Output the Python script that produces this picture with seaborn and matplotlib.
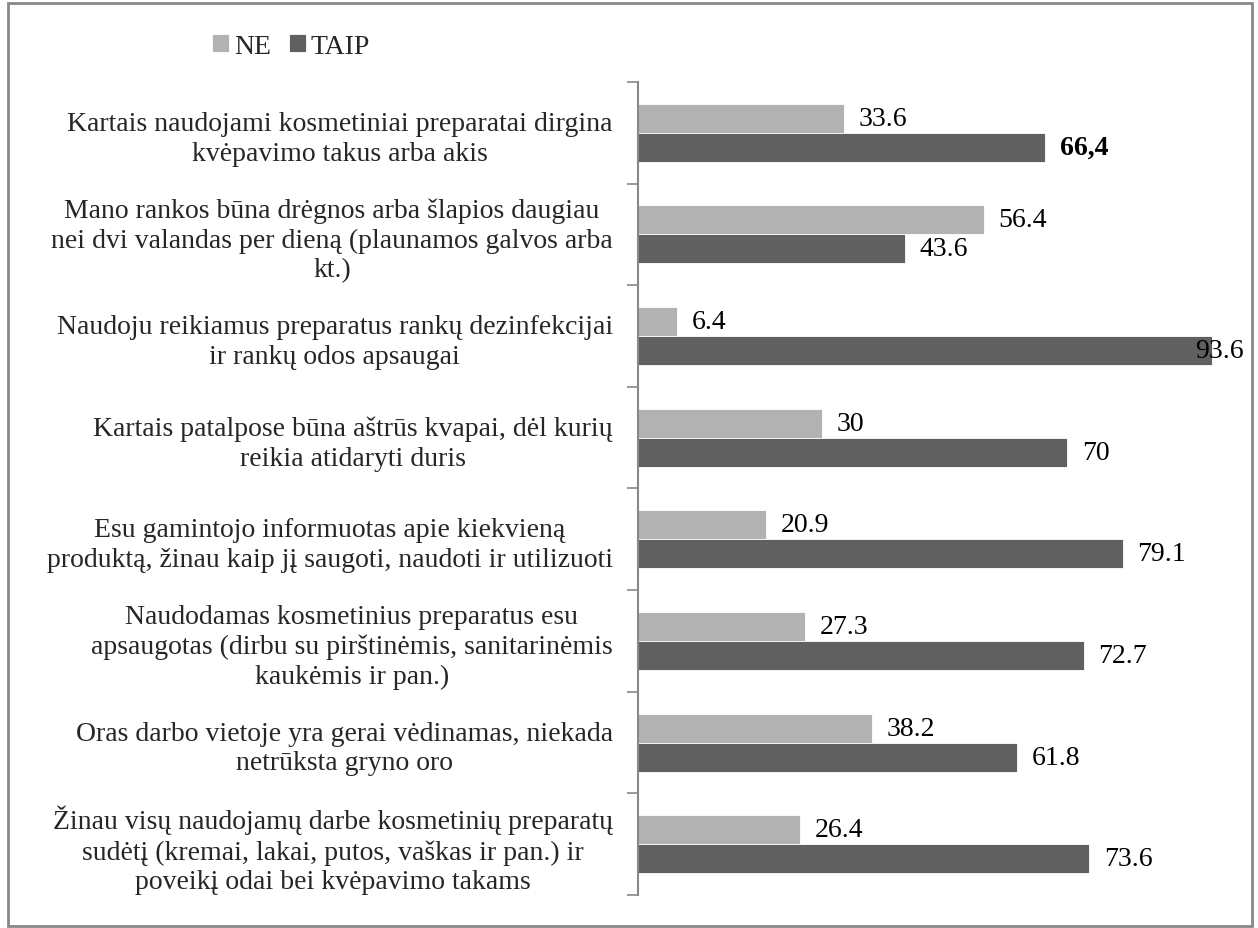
import matplotlib
matplotlib.use("Agg")
import matplotlib.pyplot as plt
from matplotlib.patches import Rectangle
import seaborn as sns
import pandas as pd
import numpy as np

# Chart data
statements = [
    "Kartais naudojami kosmetiniai preparatai dirgina\nkvėpavimo takus arba akis",
    "Mano rankos būna drėgnos arba šlapios daugiau\nnei dvi valandas per dieną (plaunamos galvos arba\nkt.)",
    "Naudoju reikiamus preparatus rankų dezinfekcijai\nir rankų odos apsaugai",
    "Kartais patalpose būna aštrūs kvapai, dėl kurių\nreikia atidaryti duris",
    "Esu gamintojo informuotas apie kiekvieną\nproduktą, žinau kaip jį saugoti, naudoti ir utilizuoti",
    "Naudodamas kosmetinius preparatus esu\napsaugotas (dirbu su pirštinėmis, sanitarinėmis\nkaukėmis ir pan.)",
    "Oras darbo vietoje yra gerai vėdinamas, niekada\nnetrūksta gryno oro",
    "Žinau visų naudojamų darbe kosmetinių preparatų\nsudėtį (kremai, lakai, putos, vaškas ir pan.) ir\npoveikį odai bei kvėpavimo takams",
]
ne_values = [33.6, 56.4, 6.4, 30, 20.9, 27.3, 38.2, 26.4]
taip_values = [66.4, 43.6, 93.6, 70, 79.1, 72.7, 61.8, 73.6]
ne_labels = ["33.6", "56.4", "6.4", "30", "20.9", "27.3", "38.2", "26.4"]
taip_labels = ["66,4", "43.6", "93.6", "70", "79.1", "72.7", "61.8", "73.6"]
series_names = ["NE", "TAIP"]

colors = {"NE": "#b2b2b2", "TAIP": "#606060"}
fsize = 20

df = pd.DataFrame({
    "statement": statements * 2,
    "value": ne_values + taip_values,
    "answer": ["NE"] * len(statements) + ["TAIP"] * len(statements),
})

sns.set_style("white")
plt.rcParams["font.family"] = ["Liberation Serif", "DejaVu Serif"]

fig = plt.figure(figsize=(12.58, 9.29), dpi=100)
ax = fig.add_axes([0.507, 0.0355, 0.4874, 0.8752])

sns.barplot(data=df, y="statement", x="value", hue="answer", order=statements,
            hue_order=series_names, palette=colors, orient="h", width=0.57,
            saturation=1, ax=ax, legend=True, edgecolor="white", linewidth=0.6)

ax.set_xlim(0, 100)
ax.set_ylim(len(statements) - 0.5, -0.5)
ax.set_xlabel("")
ax.set_ylabel("")
ax.set_xticks([])

# category labels, centred block, right aligned to axis
ax.set_yticks(range(len(statements)))
ax.set_yticklabels(statements, fontsize=fsize, multialignment="center", linespacing=1.25)
ax.tick_params(axis="y", which="major", length=0, pad=18)
ax.set_yticks(np.arange(-0.5, len(statements), 1), minor=True)
ax.tick_params(axis="y", which="minor", left=True, length=8, width=1.2,
               color="#888888", direction="out")

for side in ["top", "right", "bottom"]:
    ax.spines[side].set_visible(False)
ax.spines["left"].set_color("#888888")
ax.spines["left"].set_linewidth(1.5)

# value labels
label_sets = [ne_labels, taip_labels]
for container, labels in zip(ax.containers, label_sets):
    for patch, lab in zip(container.patches, labels):
        w = patch.get_width()
        yc = patch.get_y() + patch.get_height() / 2
        weight = "bold" if "," in lab else "normal"
        if w + 9 > 100:
            ax.text(98.8, yc, lab, ha="right", va="center", fontsize=fsize,
                    fontweight=weight, color="black", clip_on=False)
        else:
            ax.text(w + 2.4, yc, lab, ha="left", va="center", fontsize=fsize,
                    fontweight=weight, color="black", clip_on=False)

# legend
handles, labels = ax.get_legend_handles_labels()
ax.legend_.remove()
fig.legend(handles, labels, loc="center left", bbox_to_anchor=(0.160, 0.949),
           ncol=2, frameon=False, fontsize=fsize, handlelength=0.6,
           handleheight=0.6, handletextpad=0.18, columnspacing=0.65,
           borderaxespad=0)

# chart border
fig.patches.append(Rectangle((8 / 1258, 2 / 929), 1244 / 1258, 923 / 929,
                             transform=fig.transFigure, fill=False,
                             edgecolor="#888888", linewidth=2))

fig.savefig("out.png", dpi=100)
